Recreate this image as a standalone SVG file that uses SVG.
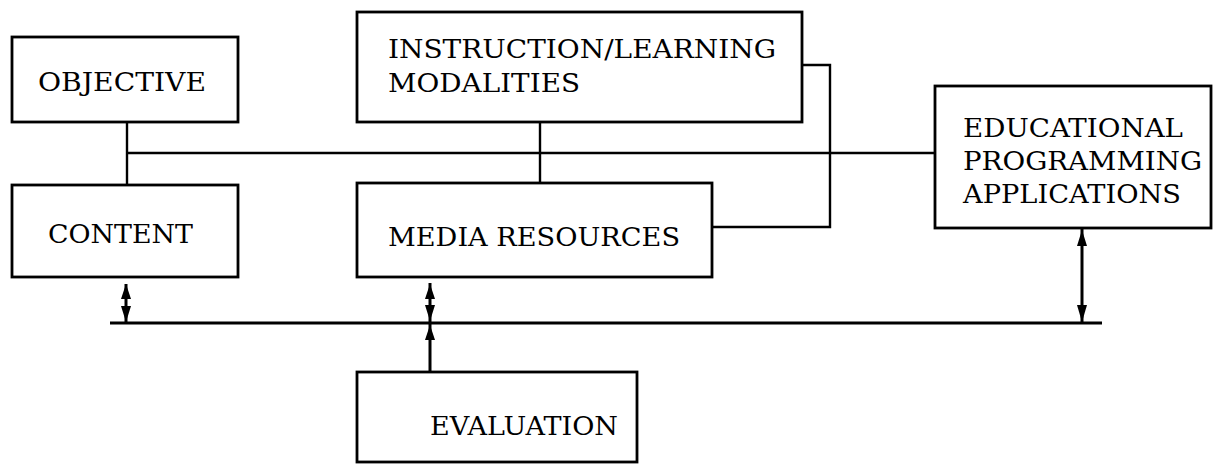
<svg xmlns="http://www.w3.org/2000/svg" width="1214" height="465" viewBox="0 0 1214 465">
<style>
.box{fill:#fff;stroke:#000;stroke-width:2.8}
.ln{fill:none;stroke:#000;stroke-width:2.4}
.ar{fill:none;stroke:#000;stroke-width:3}
.bus{fill:none;stroke:#000;stroke-width:3}
.hd{fill:#000}
text{font-family:"DejaVu Serif","Liberation Serif",serif;font-size:26px;fill:#000}
</style>
<rect width="1214" height="465" fill="#fff"/>
<g id="connectors">
<polyline class="ln" points="127,122 127,185"/>
<polyline class="ln" points="127,153 935,153"/>
<polyline class="ln" points="540,122 540,183"/>
<polyline class="ln" points="802,65 830,65 830,227 713,227"/>
<line class="bus" x1="110" y1="323" x2="1102" y2="323"/>
<line class="ar" x1="126" y1="284" x2="126" y2="323"/>
<polygon class="hd" points="126,284 121,299 131,299"/>
<polygon class="hd" points="126,322 121,306 131,306"/>
<line class="ar" x1="430" y1="283" x2="430" y2="372"/>
<polygon class="hd" points="430,284 425,299 435,299"/>
<polygon class="hd" points="430,321 425,305 435,305"/>
<polygon class="hd" points="430,325 425,340 435,340"/>
<line class="ar" x1="1082" y1="229" x2="1082" y2="323"/>
<polygon class="hd" points="1082,230 1077,246 1087,246"/>
<polygon class="hd" points="1082,322 1077,305 1087,305"/>
</g>
<g id="objective">
<rect class="box" x="12" y="37" width="226" height="85"/>
<text x="38" y="91" textLength="168" lengthAdjust="spacingAndGlyphs">OBJECTIVE</text>
</g>
<g id="content">
<rect class="box" x="12" y="185" width="226" height="92"/>
<text x="48" y="243" textLength="145" lengthAdjust="spacingAndGlyphs">CONTENT</text>
</g>
<g id="instruction">
<rect class="box" x="357" y="12" width="445" height="110"/>
<text x="388" y="58" textLength="388" lengthAdjust="spacingAndGlyphs">INSTRUCTION/LEARNING</text>
<text x="388" y="92" textLength="192" lengthAdjust="spacingAndGlyphs">MODALITIES</text>
</g>
<g id="media">
<rect class="box" x="357" y="183" width="355" height="94"/>
<text x="388" y="246" textLength="292" lengthAdjust="spacingAndGlyphs">MEDIA RESOURCES</text>
</g>
<g id="educational">
<rect class="box" x="935" y="86" width="276" height="142"/>
<text x="963" y="137" textLength="220" lengthAdjust="spacingAndGlyphs">EDUCATIONAL</text>
<text x="963" y="170" textLength="239" lengthAdjust="spacingAndGlyphs">PROGRAMMING</text>
<text x="963" y="203" textLength="218" lengthAdjust="spacingAndGlyphs">APPLICATIONS</text>
</g>
<g id="evaluation">
<rect class="box" x="357" y="372" width="280" height="90"/>
<text x="430" y="435" textLength="188" lengthAdjust="spacingAndGlyphs">EVALUATION</text>
</g>
</svg>
